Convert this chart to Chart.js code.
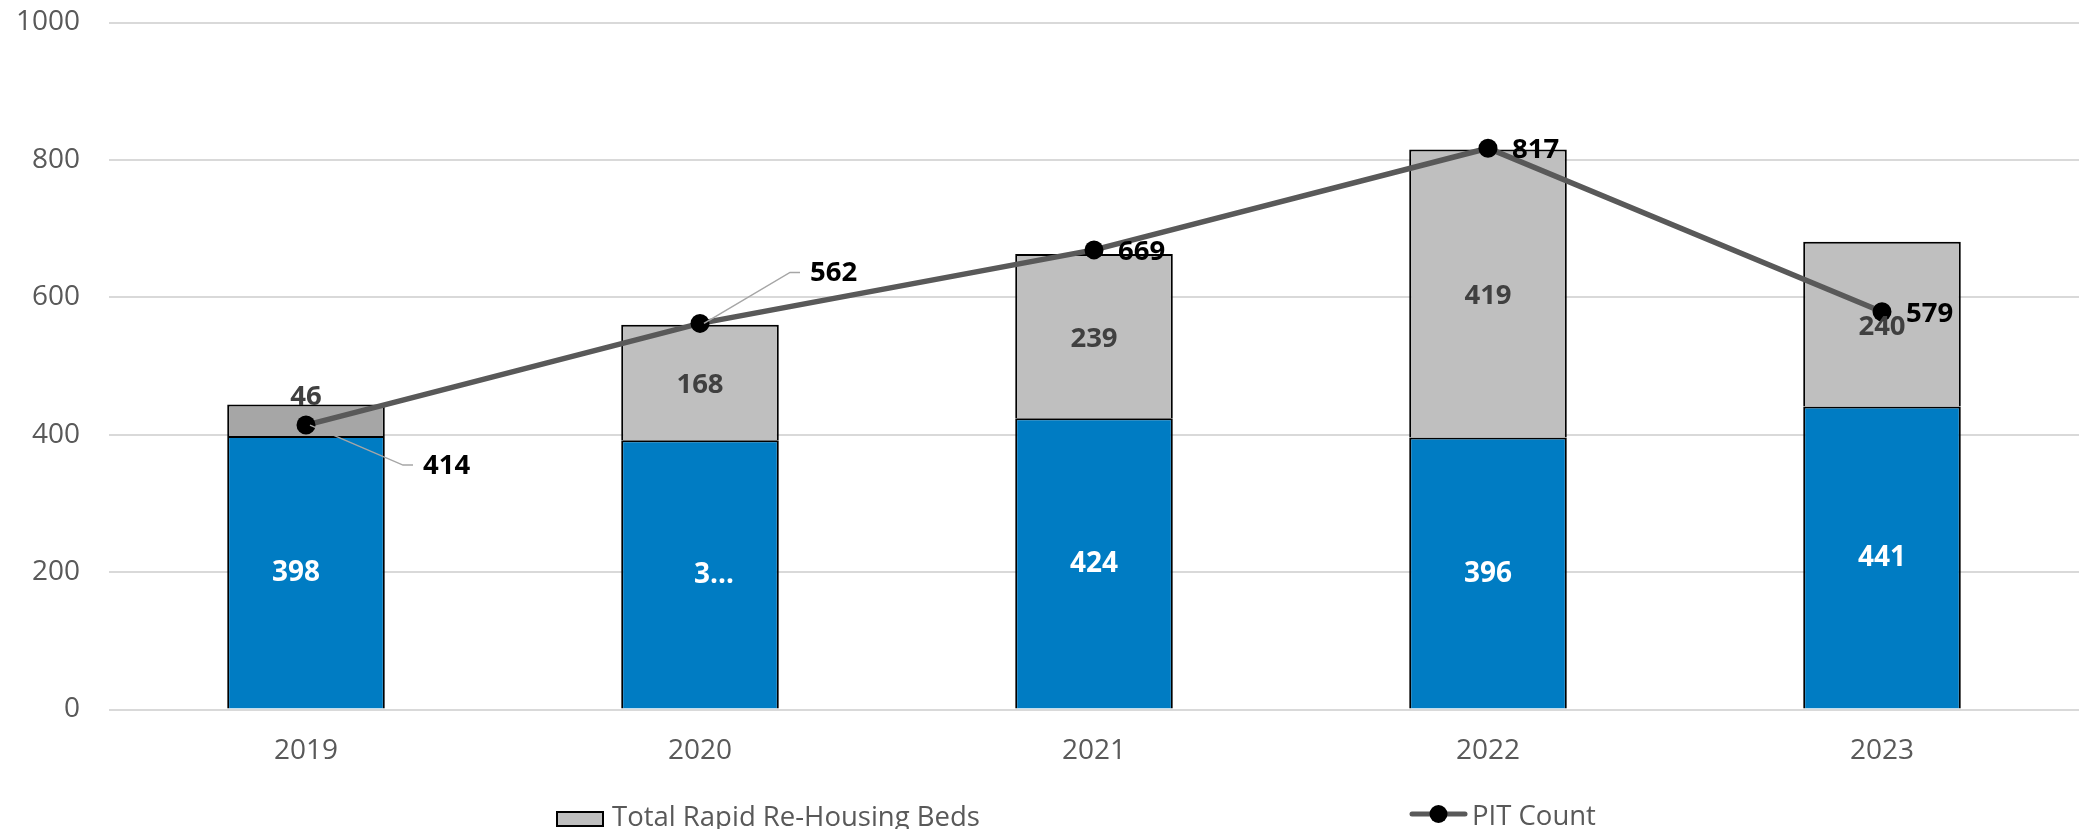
<!DOCTYPE html>
<html>
<head>
<meta charset="utf-8">
<script src="https://cdn.jsdelivr.net/npm/chart.js@4"></script>
<style>
html, body { margin: 0; padding: 0; background: #fff; }
</style>
</head>
<body>
<canvas id="rrhChart" width="2079" height="829"></canvas>
<script>
// Values
const years = ['2019', '2020', '2021', '2022', '2023'];
const baseBeds = [398, 392, 424, 396, 441];
const baseBedLabels = ['398', '3…', '424', '396', '441'];
const addedBeds = [46, 168, 239, 419, 240];
const pitCount = [414, 562, 669, 817, 579];
const yTicks = [0, 200, 400, 600, 800, 1000];

const FONT = '"Open Sans", "Noto Sans", sans-serif';

// where each PIT label sits relative to its point
const pitPlacement = ['below', 'above', 'right', 'right', 'right'];
// small horizontal shifts of the blue labels, as in the original
const blueLabelNudge = [-10, 14, 0, 0, 0];

// Data labels drawn on top of the datasets
const valueLabels = {
    id: 'valueLabels',
    afterDatasetsDraw(chart) {
        const ctx = chart.ctx;
        ctx.save();
        ctx.textAlign = 'center';
        ctx.textBaseline = 'middle';

        // blue segment labels
        ctx.font = 'bold 28px ' + FONT;
        chart.getDatasetMeta(0).data.forEach((bar, i) => {
            ctx.fillStyle = '#ffffff';
            ctx.fillText(baseBedLabels[i], bar.x + blueLabelNudge[i], (bar.y + bar.base) / 2 + 1);
        });

        // grey segment labels (small segment -> label sits on its top edge)
        ctx.font = 'bold 27.5px ' + FONT;
        chart.getDatasetMeta(1).data.forEach((bar, i) => {
            const h = bar.base - bar.y;
            const y = h < 45 ? bar.y - 7 : (bar.y + bar.base) / 2 + 3;
            ctx.fillStyle = '#404040';
            ctx.fillText(String(addedBeds[i]), bar.x, y);
        });

        // PIT count labels
        ctx.textAlign = 'left';
        chart.getDatasetMeta(2).data.forEach((pt, i) => {
            const txt = String(pitCount[i]);
            ctx.fillStyle = '#000000';
            if (pitPlacement[i] === 'right') {
                ctx.fillText(txt, pt.x + 24, pt.y + 2);
                return;
            }
            const below = pitPlacement[i] === 'below';
            const ex = pt.x + (below ? 97 : 90);
            const ey = pt.y + (below ? 40 : -51);
            ctx.strokeStyle = '#a6a6a6';
            ctx.lineWidth = 1.5;
            ctx.beginPath();
            ctx.moveTo(pt.x + 4, pt.y);
            ctx.lineTo(ex, ey);
            ctx.lineTo(ex + 10, ey);
            ctx.stroke();
            ctx.fillText(txt, ex + 20, ey + 1);
        });
        ctx.restore();
    }
};

// Legend drawn like the original (blue series has no entry)
const bottomLegend = {
    id: 'bottomLegend',
    afterDraw(chart) {
        const ctx = chart.ctx;
        ctx.save();
        ctx.font = '27.5px ' + FONT;
        ctx.textBaseline = 'alphabetic';
        ctx.textAlign = 'left';

        // grey box
        ctx.fillStyle = '#bfbfbf';
        ctx.fillRect(557, 812, 46, 14);
        ctx.strokeStyle = '#000000';
        ctx.lineWidth = 2;
        ctx.strokeRect(557, 812, 46, 14);
        ctx.fillStyle = '#595959';
        ctx.fillText(chart.data.datasets[1].label, 612, 826);

        // line + marker
        ctx.strokeStyle = '#595959';
        ctx.lineWidth = 5;
        ctx.lineCap = 'round';
        ctx.beginPath();
        ctx.moveTo(1412, 814);
        ctx.lineTo(1465, 814);
        ctx.stroke();
        ctx.fillStyle = '#000000';
        ctx.beginPath();
        ctx.arc(1438.5, 814, 9, 0, Math.PI * 2);
        ctx.fill();
        ctx.fillStyle = '#595959';
        ctx.fillText(chart.data.datasets[2].label, 1472, 825);
        ctx.restore();
    }
};

const ctx = document.getElementById('rrhChart').getContext('2d');

const rrhChart = new Chart(ctx, {
    type: 'bar',
    data: {
        labels: years,
        datasets: [
            {
                label: 'Rapid Re-Housing Beds',
                data: baseBeds,
                backgroundColor: '#007cc3',
                borderColor: '#000000',
                borderWidth: 2,
                stack: 'beds',
                order: 1
            },
            {
                label: 'Total Rapid Re-Housing Beds',
                data: addedBeds,
                backgroundColor: c => c.dataIndex === 0 ? '#a6a6a6' : '#bfbfbf',
                borderColor: '#000000',
                borderWidth: 2,
                stack: 'beds',
                order: 1
            },
            {
                type: 'line',
                label: 'PIT Count',
                data: pitCount,
                borderColor: '#595959',
                borderWidth: 5.5,
                pointRadius: 9.5,
                pointBackgroundColor: '#000000',
                pointBorderColor: '#000000',
                pointBorderWidth: 0,
                tension: 0,
                order: 0
            }
        ]
    },
    options: {
        responsive: false,
        animation: false,
        devicePixelRatio: 1,
        layout: {
            autoPadding: false,
            padding: { top: 22.5, right: 0, bottom: 59.5, left: 0 }
        },
        scales: {
            x: {
                stacked: true,
                offset: true,
                grid: { display: false },
                border: { display: false },
                ticks: {
                    color: '#595959',
                    font: { family: FONT, size: 28 },
                    padding: 17
                },
                afterFit(scale) {
                    scale.height = 60;
                    scale.paddingLeft = 0;
                    scale.paddingRight = 0;
                }
            },
            y: {
                stacked: true,
                min: 0,
                max: 1000,
                afterBuildTicks(scale) {
                    scale.ticks = yTicks.map(v => ({ value: v }));
                },
                grid: {
                    color: '#d9d9d9',
                    lineWidth: 2,
                    drawTicks: false
                },
                border: { display: false },
                ticks: {
                    color: '#595959',
                    font: { family: FONT, size: 28 },
                    padding: 29,
                    callback: v => String(v)
                },
                afterFit(scale) {
                    scale.width = 109;
                    // tick padding would otherwise push the plot area down
                    scale.paddingTop = 0;
                    scale.paddingBottom = 0;
                }
            }
        },
        datasets: {
            bar: { categoryPercentage: 1, barPercentage: 0.4 }
        },
        plugins: {
            legend: { display: false },
            tooltip: { enabled: false }
        }
    },
    plugins: [valueLabels, bottomLegend]
});
</script>
</body>
</html>
